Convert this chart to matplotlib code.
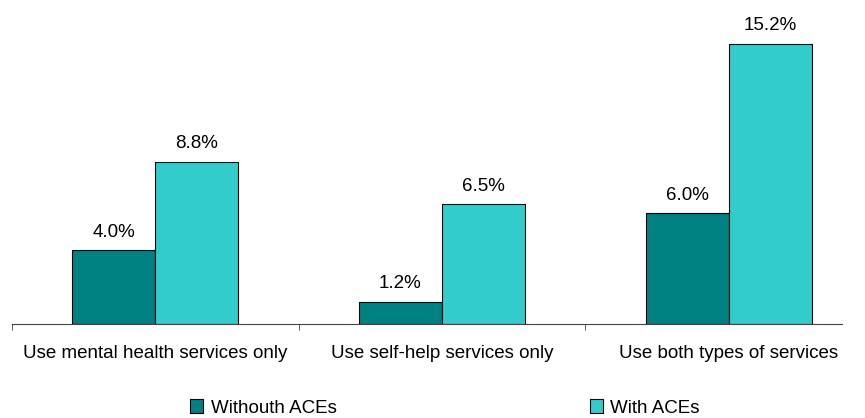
import matplotlib.pyplot as plt
import numpy as np

plt.rcParams['font.family'] = ['Liberation Sans', 'DejaVu Sans']

categories = ["Use mental health services only", "Use self-help services only", "Use both types of services"]
without_aces = [4.0, 1.2, 6.0]
with_aces = [8.8, 6.5, 15.2]
series_names = ["Withouth ACEs", "With ACEs"]

dark = "#008080"
light = "#33CCCC"
fs = 13.5

fig = plt.figure(figsize=(8.65, 4.18), dpi=100)
W, H = 865, 418
# axes spans from x=12px to 842px, baseline at y=324px
ax = fig.add_axes([12 / W, (H - 324) / H, 830 / W, 314 / H])

x = np.arange(len(categories))
w = 0.29
b1 = ax.bar(x - w / 2, without_aces, w, color=dark, edgecolor="black", linewidth=0.8, label=series_names[0])
b2 = ax.bar(x + w / 2, with_aces, w, color=light, edgecolor="black", linewidth=0.8, label=series_names[1])

for bars, vals in ((b1, without_aces), (b2, with_aces)):
    for r, v in zip(bars, vals):
        ax.annotate(f"{v:.1f}%", (r.get_x() + r.get_width() / 2, v), xytext=(0, 7),
                    textcoords="offset points", ha="center", va="bottom", fontsize=fs)

ax.set_xlim(-0.5, 2.5 - 30 / 287)
ax.set_ylim(0, 314 / 18.42)
for s in ["top", "right", "left"]:
    ax.spines[s].set_visible(False)
ax.spines["bottom"].set_color("#444444")
ax.set_yticks([])
ax.set_xticks([-0.5, 0.5, 1.5], minor=True)
ax.set_xticks(x)
ax.set_xticklabels(categories, fontsize=fs)
ax.tick_params(axis="x", which="major", length=0, pad=15)
ax.tick_params(axis="x", which="minor", length=4, color="#444444", direction="out")

fig.legend(handles=[b1, b2], labels=series_names, loc="center", bbox_to_anchor=(445 / W, 1 - 408 / H),
           ncol=2, frameon=False, fontsize=fs, handlelength=0.7, handleheight=0.7,
           handletextpad=0.4, columnspacing=13.5)

fig.savefig("out.png", dpi=100)
